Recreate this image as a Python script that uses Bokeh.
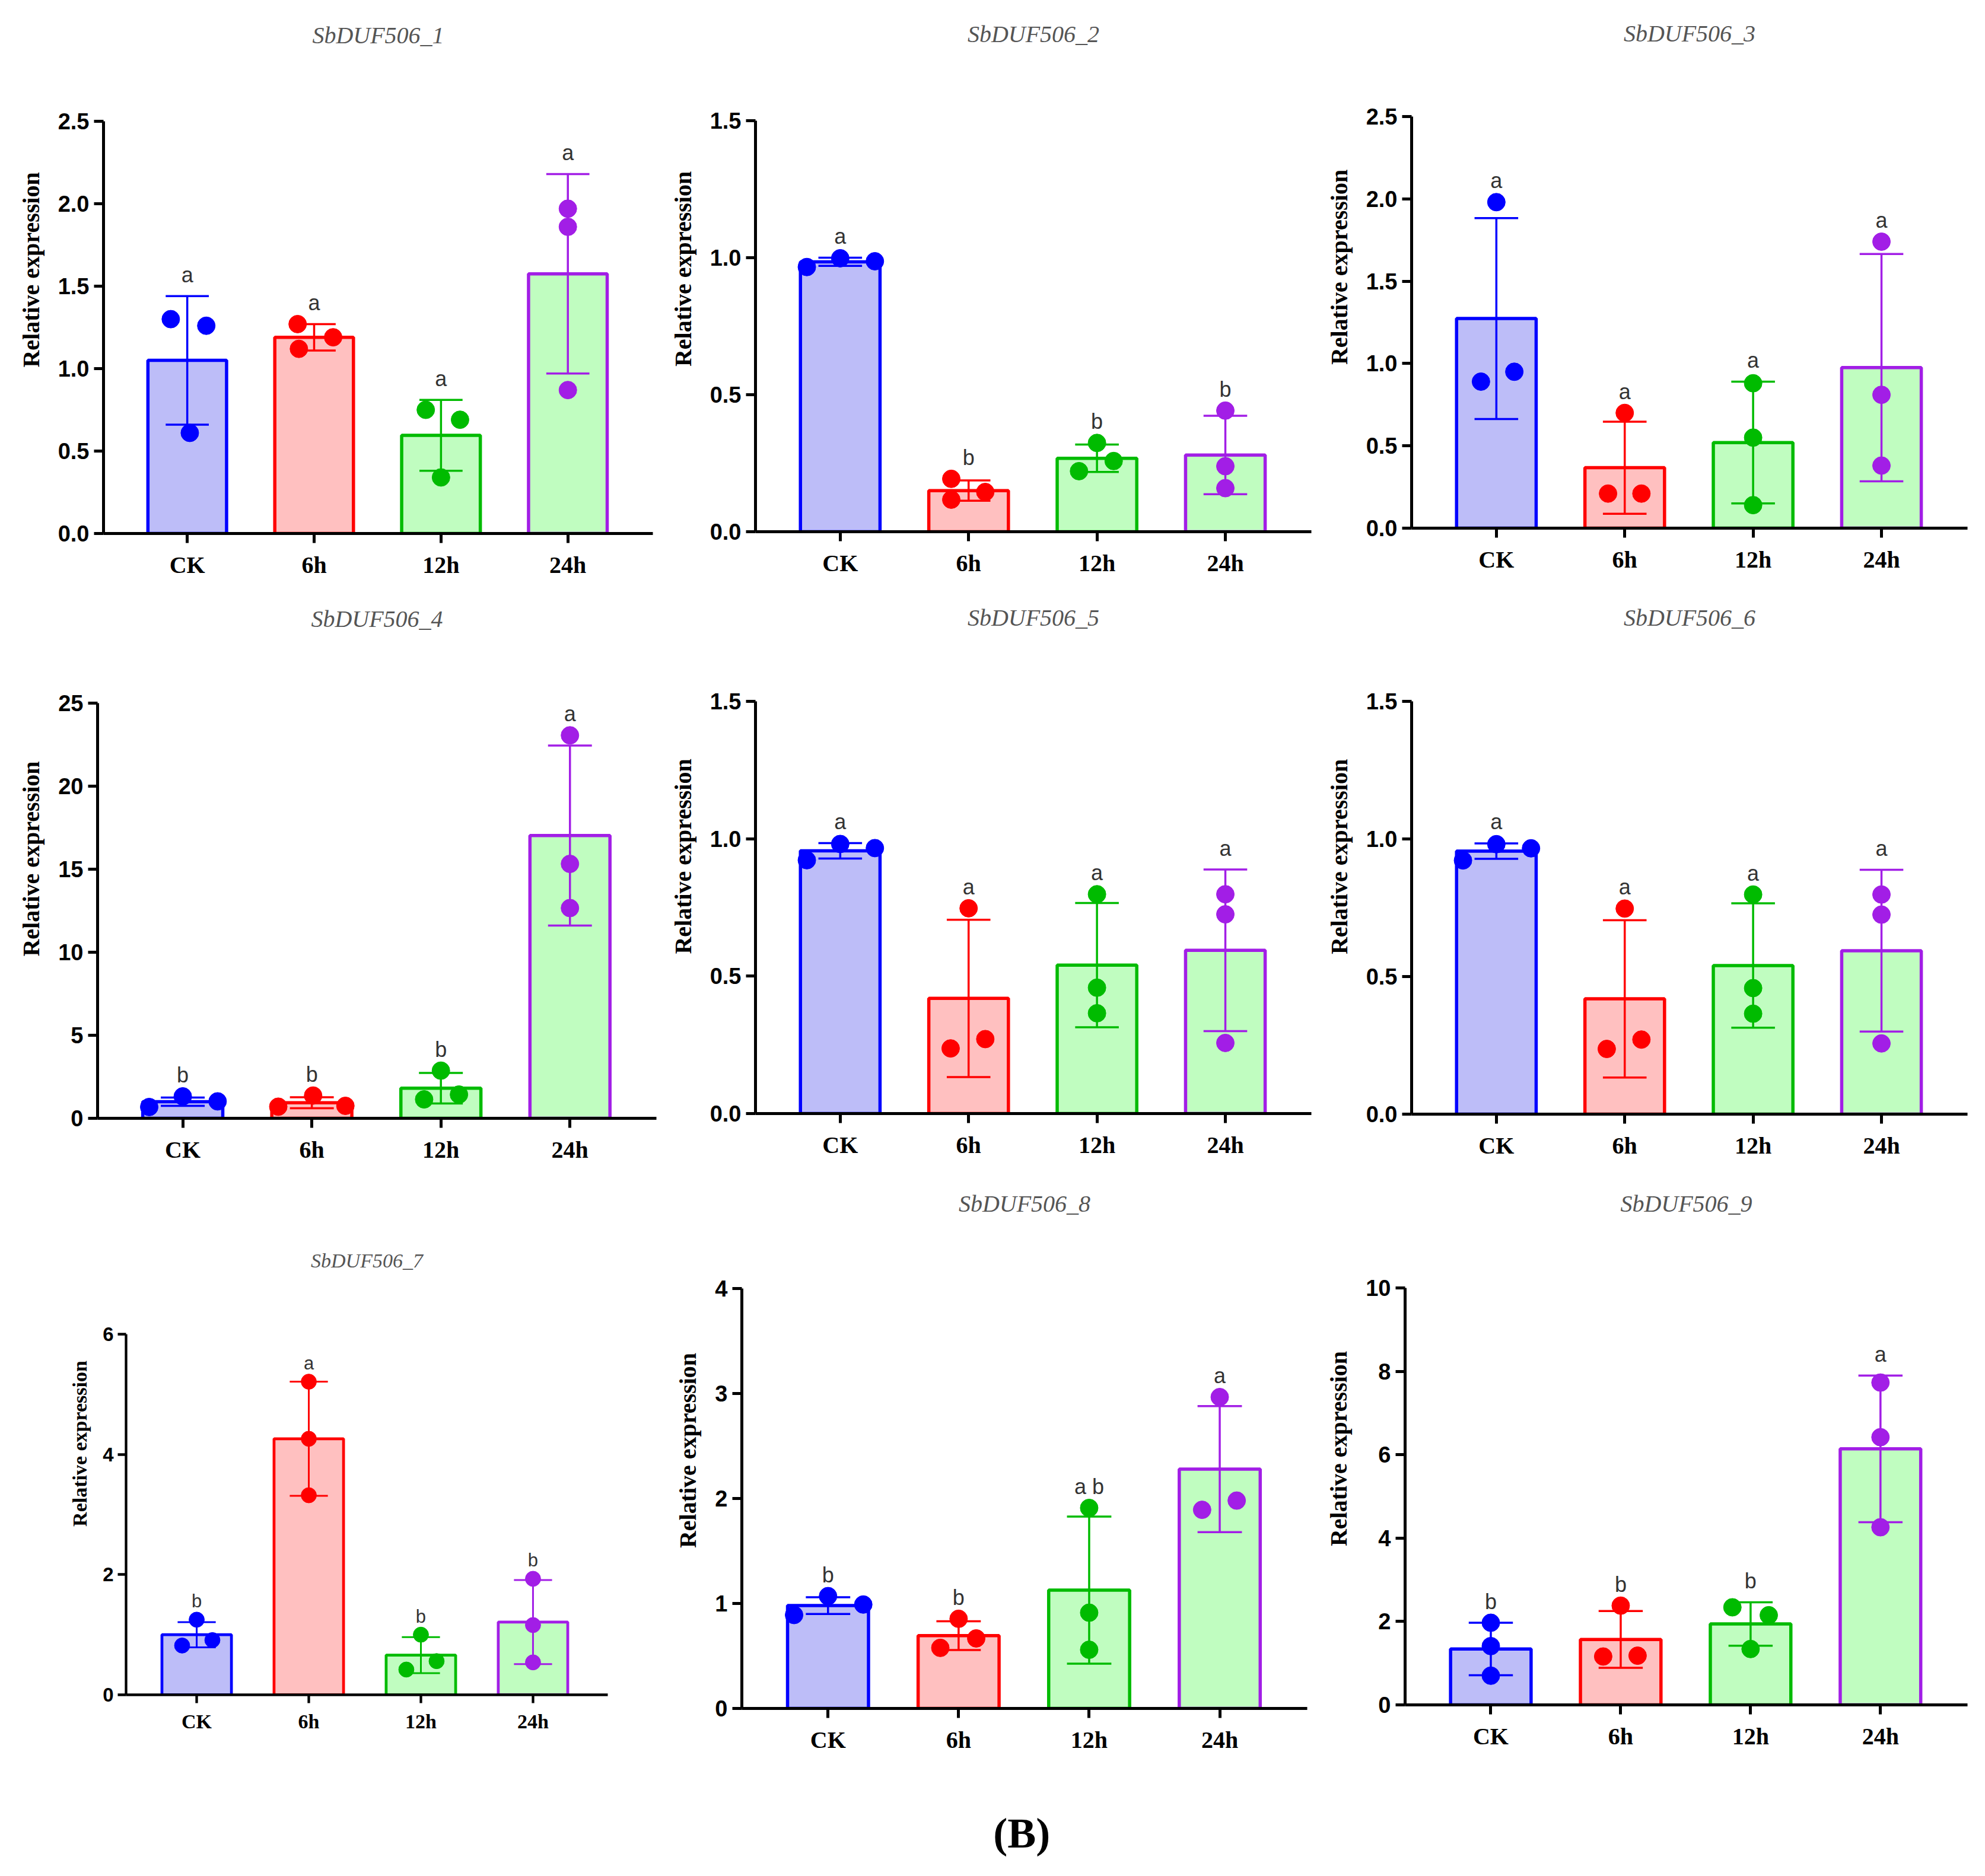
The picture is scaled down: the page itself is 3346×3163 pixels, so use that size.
from bokeh.plotting import figure
from bokeh.models import Range1d, FixedTicker, PrintfTickFormatter, ColumnDataSource
from bokeh.layouts import column, row
from bokeh.embed import file_html
from bokeh.resources import INLINE
from bokeh.core.properties import value

groups = ["CK", "6h", "12h", "24h"]
edge_colors = ["#0000ff", "#ff0000", "#00bb00", "#a21ee6"]
fill_colors = ["#bdbdf8", "#ffc0c0", "#c0fdc0", "#c0fdc0"]

titles = ["SbDUF506_1", "SbDUF506_2", "SbDUF506_3", "SbDUF506_4", "SbDUF506_5",
          "SbDUF506_6", "SbDUF506_7", "SbDUF506_8", "SbDUF506_9"]

means_1 = [1.05, 1.19, 0.595, 1.575]
sds_1 = [0.39, 0.08, 0.215, 0.605]
pts_1 = [[1.30, 1.26, 0.61], [1.27, 1.19, 1.12], [0.75, 0.69, 0.34], [1.97, 1.86, 0.87]]
offs_1 = [[-0.13, 0.15, 0.02], [-0.13, 0.15, -0.12], [-0.12, 0.15, 0.0], [0.0, 0.0, 0.0]]
letters_1 = ["a", "a", "a", "a"]
yticks_1 = [0, 0.5, 1.0, 1.5, 2.0, 2.5]

means_2 = [0.985, 0.15, 0.268, 0.28]
sds_2 = [0.015, 0.037, 0.05, 0.143]
pts_2 = [[0.966, 0.998, 0.987], [0.193, 0.145, 0.117], [0.324, 0.258, 0.221], [0.442, 0.239, 0.159]]
offs_2 = [[-0.26, 0.0, 0.27], [-0.135, 0.13, -0.135], [0.0, 0.13, -0.14], [0.0, 0.0, 0.0]]
letters_2 = ["a", "b", "b", "b"]
yticks_2 = [0, 0.5, 1.0, 1.5]

means_3 = [1.273, 0.367, 0.52, 0.975]
sds_3 = [0.61, 0.28, 0.37, 0.69]
pts_3 = [[1.98, 0.89, 0.95], [0.70, 0.21, 0.21], [0.88, 0.55, 0.14], [1.74, 0.81, 0.38]]
offs_3 = [[0.0, -0.12, 0.14], [0.0, -0.13, 0.13], [0.0, 0.0, 0.0], [0.0, 0.0, 0.0]]
letters_3 = ["a", "a", "a", "a"]
yticks_3 = [0, 0.5, 1.0, 1.5, 2.0, 2.5]

means_4 = [1.0, 0.94, 1.81, 17.03]
sds_4 = [0.25, 0.33, 0.92, 5.42]
pts_4 = [[0.68, 1.32, 1.02], [0.70, 1.37, 0.75], [2.87, 1.14, 1.43], [23.06, 15.32, 12.66]]
offs_4 = [[-0.26, 0.0, 0.27], [-0.26, 0.01, 0.26], [0.0, -0.13, 0.14], [0.0, 0.0, 0.0]]
letters_4 = ["b", "b", "b", "a"]
yticks_4 = [0, 5, 10, 15, 20, 25]

means_5 = [0.956, 0.419, 0.54, 0.594]
sds_5 = [0.028, 0.286, 0.226, 0.294]
pts_5 = [[0.922, 0.981, 0.966], [0.747, 0.237, 0.271], [0.798, 0.458, 0.365], [0.798, 0.725, 0.257]]
offs_5 = [[-0.26, 0.0, 0.27], [0.0, -0.14, 0.13], [0.0, 0.0, 0.0], [0.0, 0.0, 0.0]]
letters_5 = ["a", "a", "a", "a"]
yticks_5 = [0, 0.5, 1.0, 1.5]

means_6 = [0.956, 0.419, 0.54, 0.594]
sds_6 = [0.028, 0.286, 0.226, 0.294]
pts_6 = [[0.922, 0.981, 0.966], [0.747, 0.237, 0.271], [0.798, 0.458, 0.365], [0.798, 0.725, 0.257]]
offs_6 = [[-0.26, 0.0, 0.27], [0.0, -0.14, 0.13], [0.0, 0.0, 0.0], [0.0, 0.0, 0.0]]
letters_6 = ["a", "a", "a", "a"]
yticks_6 = [0, 0.5, 1.0, 1.5]

means_7 = [1.0, 4.26, 0.66, 1.21]
sds_7 = [0.21, 0.95, 0.30, 0.70]
pts_7 = [[1.25, 0.82, 0.91], [5.21, 4.26, 3.32], [1.00, 0.42, 0.56], [1.93, 1.16, 0.54]]
offs_7 = [[0.0, -0.13, 0.14], [0.0, 0.0, 0.0], [0.0, -0.13, 0.14], [0.0, 0.0, 0.0]]
letters_7 = ["b", "a", "b", "b"]
yticks_7 = [0, 2, 4, 6]

means_8 = [0.98, 0.694, 1.127, 2.28]
sds_8 = [0.08, 0.137, 0.70, 0.60]
pts_8 = [[0.89, 1.07, 0.99], [0.854, 0.577, 0.667], [1.91, 0.912, 0.559], [2.966, 1.892, 1.98]]
offs_8 = [[-0.26, 0.0, 0.27], [0.0, -0.14, 0.135], [0.0, 0.0, 0.0], [0.0, -0.135, 0.13]]
letters_8 = ["b", "b", "a b", "a"]
yticks_8 = [0, 1, 2, 3, 4]

means_9 = [1.34, 1.57, 1.94, 6.14]
sds_9 = [0.63, 0.68, 0.52, 1.76]
pts_9 = [[1.97, 1.41, 0.70], [2.38, 1.16, 1.18], [2.34, 2.15, 1.34], [7.73, 6.42, 4.26]]
offs_9 = [[0.0, 0.0, 0.0], [0.0, -0.135, 0.13], [-0.14, 0.14, 0.0], [0.0, 0.0, 0.0]]
letters_9 = ["b", "b", "b", "a"]
yticks_9 = [0, 2, 4, 6, 8, 10]

panel_label = "(B)"

SERIF = "Liberation Serif"
SANS = "Liberation Sans"

FRAME_PAD_TOP = 10  # frame starts this far below the top of each row


def make_panel(title, means, sds, pts, offs, letters, yticks, fmt,
               width, height, row_top, bl, br, ytop_px, zero_px, title_px, xr, k=1.0):
    """ytop_px / zero_px / title_px: page pixel rows of the top tick, the zero line, the title."""
    pos = list(range(1, len(groups) + 1))
    ymax = yticks[-1]
    ppu = (zero_px - ytop_px) / ymax
    frame_top = row_top + FRAME_PAD_TOP
    y_end = ymax + (ytop_px - frame_top) / ppu
    bb = row_top + height - zero_px

    p = figure(width=width, height=height, output_backend="svg", toolbar_location=None,
               x_range=Range1d(*xr), y_range=Range1d(0, y_end), frame_align=False,
               min_border_left=bl, min_border_right=br,
               min_border_top=FRAME_PAD_TOP, min_border_bottom=bb)
    p.outline_line_color = None
    p.grid.visible = False
    p.background_fill_color = "white"
    p.border_fill_color = "white"

    # bars
    bsrc = ColumnDataSource(dict(x=pos, top=means, fill=fill_colors, edge=edge_colors))
    p.vbar(x="x", top="top", bottom=0, width=0.62, source=bsrc, fill_color="fill",
           line_color="edge", line_width=5.5 * k)

    # error bars (mean +/- SD)
    lo = [m - s for m, s in zip(means, sds)]
    hi = [m + s for m, s in zip(means, sds)]
    cw = 0.17
    esrc = ColumnDataSource(dict(x=pos, lo=lo, hi=hi, xl=[x - cw for x in pos],
                                 xr=[x + cw for x in pos], c=edge_colors))
    p.segment(x0="x", y0="lo", x1="x", y1="hi", source=esrc, line_color="c", line_width=3.5 * k)
    p.segment(x0="xl", y0="hi", x1="xr", y1="hi", source=esrc, line_color="c", line_width=3.5 * k)
    p.segment(x0="xl", y0="lo", x1="xr", y1="lo", source=esrc, line_color="c", line_width=3.5 * k)

    # individual points
    px, py, pc = [], [], []
    for i, (vals, os) in enumerate(zip(pts, offs)):
        for v, o in zip(vals, os):
            px.append(pos[i] + o)
            py.append(v)
            pc.append(edge_colors[i])
    p.scatter(x=px, y=py, color=pc, size=30 * k, marker="circle")

    # significance letters
    anchor = [max(h, max(v)) for h, v in zip(hi, pts)]
    p.text(x=pos, y=anchor, text=letters, text_align="center", text_baseline="middle",
           y_offset=-36 * k, text_font=value(SANS), text_font_size=f"{round(36 * k)}px",
           text_color="#333333")

    # panel title (inside the extended, invisible frame)
    title_y = ymax + (ytop_px - title_px) / ppu
    p.text(x=[(xr[0] + xr[1]) / 2], y=[title_y], text=[title], text_align="center",
           text_baseline="middle", text_font=value(SERIF), text_font_style="italic",
           text_font_size=f"{round(40 * k)}px", text_color="#555555")

    # axes
    xa = p.xaxis[0]
    xa.ticker = FixedTicker(ticks=pos)
    xa.major_label_overrides = {x: g for x, g in zip(pos, groups)}
    xa.minor_tick_line_color = None
    xa.axis_line_width = 5 * k
    xa.major_tick_line_width = 5 * k
    xa.major_tick_out = round(16 * k)
    xa.major_tick_in = 0
    xa.major_label_standoff = round(14 * k)
    xa.major_label_text_font = SERIF
    xa.major_label_text_font_style = "bold"
    xa.major_label_text_font_size = f"{round(40 * k)}px"
    xa.major_label_text_color = "black"

    ya = p.yaxis[0]
    ya.bounds = (0, ymax)
    ya.ticker = FixedTicker(ticks=yticks)
    ya.formatter = PrintfTickFormatter(format=fmt)
    ya.minor_tick_line_color = None
    ya.axis_line_width = 5 * k
    ya.major_tick_line_width = 5 * k
    ya.major_tick_out = round(16 * k)
    ya.major_tick_in = 0
    ya.major_label_standoff = round(8 * k)
    ya.major_label_text_font = SANS
    ya.major_label_text_font_style = "bold"
    ya.major_label_text_font_size = f"{round(38 * k)}px"
    ya.major_label_text_color = "black"
    ya.axis_label = "Relative expression"
    ya.axis_label_text_font = SERIF
    ya.axis_label_text_font_style = "bold"
    ya.axis_label_text_font_size = f"{round(40 * k)}px"
    ya.axis_label_standoff = round(20 * k)
    ya.axis_label_text_color = "black"
    return p


XR = (0.34, 4.67)
W1, W2, W3 = 1115, 1116, 1109

# row 1 (top 0, height 1000)
p1 = make_panel(titles[0], means_1, sds_1, pts_1, offs_1, letters_1, yticks_1, "%.1f",
                W1, 1000, 0, 174, 15, 204, 899, 59, XR)
p2 = make_panel(titles[1], means_2, sds_2, pts_2, offs_2, letters_2, yticks_2, "%.1f",
                W2, 1000, 0, 158, 21, 203, 896, 57, XR)
p3 = make_panel(titles[2], means_3, sds_3, pts_3, offs_3, letters_3, yticks_3, "%.1f",
                W3, 1000, 0, 146, 24, 196, 890, 56, XR)
# row 2 (top 1000, height 1000)
p4 = make_panel(titles[3], means_4, sds_4, pts_4, offs_4, letters_4, yticks_4, "%d",
                W1, 1000, 1000, 164, 9, 1185, 1885, 1043, XR)
p5 = make_panel(titles[4], means_5, sds_5, pts_5, offs_5, letters_5, yticks_5, "%.1f",
                W2, 1000, 1000, 158, 21, 1182, 1877, 1041, XR)
p6 = make_panel(titles[5], means_6, sds_6, pts_6, offs_6, letters_6, yticks_6, "%.1f",
                W3, 1000, 1000, 146, 24, 1182, 1878, 1041, XR)
# row 3 (top 2000, height 990)
p7 = make_panel(titles[6], means_7, sds_7, pts_7, offs_7, letters_7, yticks_7, "%d",
                W1, 990, 2000, 212, 91, 2249, 2857, 2125, (0.37, 4.667), k=0.86)
p8 = make_panel(titles[7], means_8, sds_8, pts_8, offs_8, letters_8, yticks_8, "%d",
                W2, 990, 2000, 135, 28, 2172, 2880, 2029, XR)
p9 = make_panel(titles[8], means_9, sds_9, pts_9, offs_9, letters_9, yticks_9, "%d",
                W3, 990, 2000, 135, 24, 2171, 2874, 2029, XR)

pb = figure(width=W1 + W2 + W3, height=165, output_backend="svg", toolbar_location=None,
            x_range=Range1d(0, 1), y_range=Range1d(0, 1), min_border=0)
pb.axis.visible = False
pb.grid.visible = False
pb.outline_line_color = None
pb.text(x=[0.5155], y=[0.39], text=[panel_label], text_align="center", text_baseline="middle",
        text_font=value(SERIF), text_font_style="bold", text_font_size="72px", text_color="black")

layout = column(row(p1, p2, p3), row(p4, p5, p6), row(p7, p8, p9), pb)

with open("out.html", "w") as f:
    f.write(file_html(layout, INLINE))
